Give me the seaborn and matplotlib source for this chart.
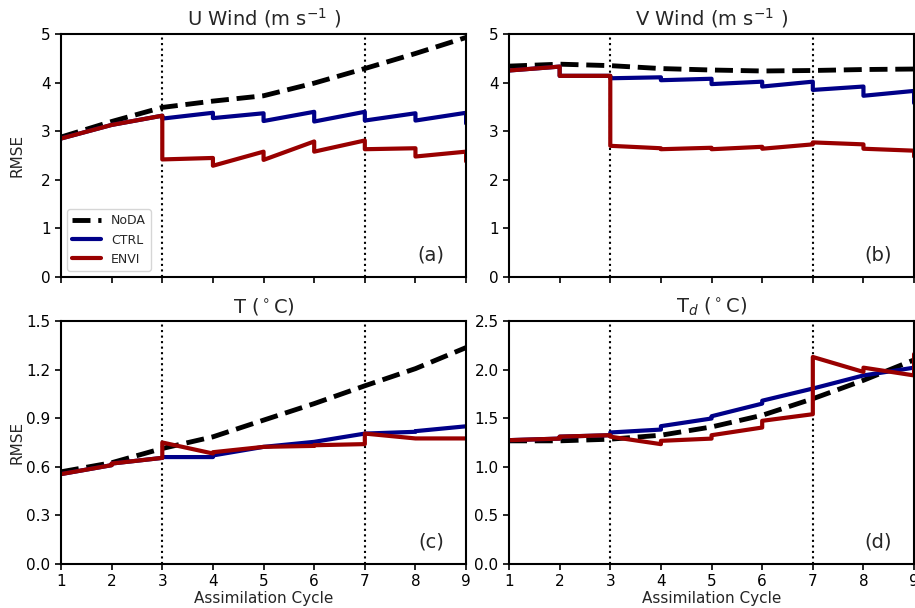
import numpy as np
import pandas as pd
import matplotlib.pyplot as plt
import seaborn as sns

# assimilation cycles
cycles = [1, 2, 3, 4, 5, 6, 7, 8, 9]

# forecast (end of cycle) and analysis values for each experiment
# U wind
u_noda = [2.88, 3.20, 3.49, 3.62, 3.73, 3.99, 4.29, 4.60, 4.93]
u_ctrl_f = [2.85, 3.13, 3.32, 3.38, 3.37, 3.40, 3.40, 3.37, 3.38]
u_ctrl_a = [2.85, 3.13, 3.26, 3.27, 3.21, 3.20, 3.22, 3.22, 3.16]
u_envi_f = [2.85, 3.13, 3.32, 2.45, 2.58, 2.79, 2.81, 2.65, 2.58]
u_envi_a = [2.85, 3.13, 2.42, 2.29, 2.41, 2.58, 2.63, 2.48, 2.38]

# V wind
v_noda = [4.34, 4.38, 4.35, 4.29, 4.26, 4.24, 4.25, 4.27, 4.28]
v_ctrl_f = [4.25, 4.33, 4.14, 4.11, 4.08, 4.02, 4.02, 3.92, 3.83]
v_ctrl_a = [4.25, 4.14, 4.09, 4.05, 3.97, 3.92, 3.85, 3.73, 3.58]
v_envi_f = [4.25, 4.33, 4.14, 2.65, 2.66, 2.68, 2.73, 2.73, 2.60]
v_envi_a = [4.25, 4.14, 2.70, 2.63, 2.63, 2.64, 2.77, 2.64, 2.48]

# temperature
t_noda = [0.569, 0.625, 0.713, 0.785, 0.888, 0.99, 1.10, 1.206, 1.336]
t_ctrl_f = [0.555, 0.61, 0.655, 0.66, 0.723, 0.754, 0.805, 0.816, 0.85]
t_ctrl_a = [0.555, 0.62, 0.66, 0.67, 0.723, 0.754, 0.805, 0.82, 0.85]
t_envi_f = [0.555, 0.61, 0.655, 0.682, 0.723, 0.729, 0.74, 0.775, 0.775]
t_envi_a = [0.555, 0.62, 0.75, 0.69, 0.723, 0.733, 0.805, 0.775, 0.775]

# dewpoint
td_noda = [1.267, 1.267, 1.284, 1.325, 1.41, 1.53, 1.70, 1.89, 2.10]
td_ctrl_f = [1.274, 1.29, 1.325, 1.383, 1.497, 1.65, 1.805, 1.94, 2.02]
td_ctrl_a = [1.274, 1.31, 1.353, 1.418, 1.52, 1.68, 1.805, 1.94, 2.05]
td_envi_f = [1.274, 1.29, 1.325, 1.233, 1.29, 1.404, 1.541, 1.976, 1.94]
td_envi_a = [1.274, 1.31, 1.31, 1.267, 1.325, 1.473, 2.13, 2.02, 2.16]

titles = [r'U Wind (m s$^{-1}$ )', r'V Wind (m s$^{-1}$ )',
          r'T ($^\circ$C)', r'T$_d$ ($^\circ$C)']
labels = ['(a)', '(b)', '(c)', '(d)']
marked_cycles = [3, 7]

sns.set_style('ticks')
plt.rcParams['font.family'] = ['DejaVu Sans']


def sawtooth(fc, an):
    # forecast -> analysis jump at each cycle
    xs, ys = [], []
    for c, f, a in zip(cycles, fc, an):
        xs += [c, c]
        ys += [f, a]
    return pd.DataFrame({'cycle': xs, 'rmse': ys})


panels = [
    (u_noda, u_ctrl_f, u_ctrl_a, u_envi_f, u_envi_a, 5, np.arange(0, 5.1, 1), '{:.0f}'),
    (v_noda, v_ctrl_f, v_ctrl_a, v_envi_f, v_envi_a, 5, np.arange(0, 5.1, 1), '{:.0f}'),
    (t_noda, t_ctrl_f, t_ctrl_a, t_envi_f, t_envi_a, 1.5, np.arange(0, 1.51, 0.3), '{:.1f}'),
    (td_noda, td_ctrl_f, td_ctrl_a, td_envi_f, td_envi_a, 2.5, np.arange(0, 2.51, 0.5), '{:.1f}'),
]

fig, axes = plt.subplots(2, 2, figsize=(9.15, 6.08), dpi=100)
plt.subplots_adjust(left=0.0667, right=0.999, top=0.944, bottom=0.0724,
                    wspace=0.106, hspace=0.181)

for i, ax in enumerate(axes.flat):
    noda, cf, ca, ef, ea, ymax, yt, fmt = panels[i]
    sns.lineplot(x=cycles, y=noda, ax=ax, color='black', lw=3.5,
                 linestyle='--', label='NoDA')
    d = sawtooth(cf, ca)
    sns.lineplot(data=d, x='cycle', y='rmse', ax=ax, color='#000088', lw=3,
                 sort=False, estimator=None, label='CTRL')
    d = sawtooth(ef, ea)
    sns.lineplot(data=d, x='cycle', y='rmse', ax=ax, color='#990000', lw=3,
                 sort=False, estimator=None, label='ENVI')
    for c in marked_cycles:
        ax.axvline(c, color='black', ls=':', lw=1.5, zorder=0)

    ax.set_xlim(1, 9)
    ax.set_ylim(0, ymax)
    ax.set_xticks(cycles)
    ax.set_yticks(yt)
    ax.set_yticklabels([fmt.format(v) for v in yt])
    ax.tick_params(labelsize=11, width=1.2, length=4, colors='black')
    for s in ax.spines.values():
        s.set_linewidth(1.5)
        s.set_color('black')
    ax.set_title(titles[i], fontsize=14)
    ax.text(0.946, 0.05, labels[i], transform=ax.transAxes, fontsize=14,
            ha='right', va='bottom')
    ax.set_xlabel('Assimilation Cycle' if i >= 2 else '', fontsize=11, labelpad=1)
    ax.set_ylabel('RMSE' if i % 2 == 0 else '', fontsize=11, labelpad=1)
    if i < 2:
        ax.set_xticklabels([])
    if i == 0:
        ax.legend(loc='lower left', fontsize=9, handlelength=2.3)
    else:
        ax.get_legend().remove()

fig.align_ylabels(axes[:, 0])
plt.savefig('out.png', dpi=100)
